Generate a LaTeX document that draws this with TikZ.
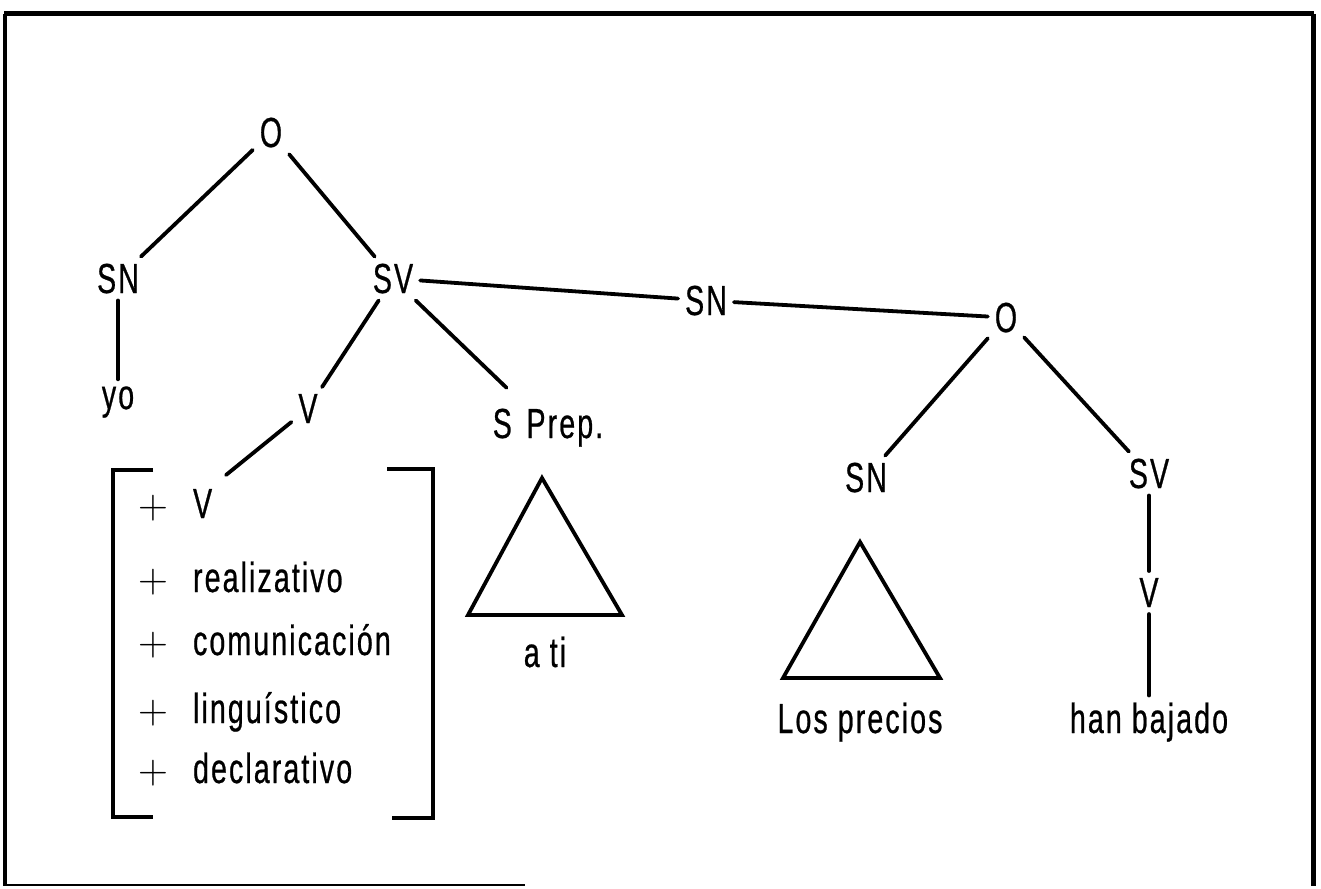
\documentclass[tikz,border=0pt]{standalone}
\usepackage{fontspec}
\setmainfont[FakeStretch=0.68,LetterSpace=5,FakeBold=0.6]{Liberation Sans}
\usepackage{tikz}
\usetikzlibrary{positioning,calc}

\begin{document}
\begin{tikzpicture}[x=0.5pt, y=-0.5pt,
	lbl/.style={anchor=base, font=\fontsize{21}{25}\selectfont},
	branch/.style={line width=1.9pt, line cap=round}]
	
	\useasboundingbox (0,0) rectangle (1321,888);
	
	% --- KHUNG ---
	\draw[line width=2.5pt] (4,14) -- (1314,14);
	\draw[line width=2pt] (5,14) -- (5,886);
	\draw[line width=2.5pt] (1313,14) -- (1313,886);
	\draw[line width=0.8pt] (5,885) -- (525,885);
	
	% --- CÁC NÚT CỦA CÂY ---
	\node[lbl] (o1) at (271,147) {O};
	\node[lbl] (sn1) at (118,293) {SN};
	\node[lbl] (sv1) at (393,293) {SV};
	\node[lbl] (yo) at (118,409) {yo};
	\node[lbl] (v1) at (308,423) {V};
	\node[lbl] (sprep) at (548,438) {S\hspace{0.35em}Prep.};
	\node[lbl] (ati) at (545,667) {a ti};
	\node[lbl] (snm) at (706,315) {SN};
	\node[lbl] (o2) at (1006,332) {O};
	\node[lbl] (sn2) at (866,492) {SN};
	\node[lbl] (sv2) at (1149,488) {SV};
	\node[lbl] (v2) at (1149,607) {V};
	\node[lbl] (precios) at (860,733) {Los precios};
	\node[lbl] (bajado) at (1149,733) {han bajado};
	
	% --- CÁC NHÁNH ---
	\draw[branch] (o1) -- (sn1);
	\draw[branch] (o1) -- (sv1);
	\draw[branch] (sn1) -- (yo);
	\draw[branch] (sv1) -- (v1);
	\draw[branch, shorten >=10pt] (sv1) -- (sprep);
	\draw[branch] (sv1) -- (snm) -- (o2);
	\draw[branch] (o2) -- (sn2);
	\draw[branch] (o2) -- (sv2);
	\draw[branch] (sv2) -- (v2);
	\draw[branch] (v2) -- (bajado);
	
	% Nhánh V xuống ngoặc vuông
	\coordinate (brk) at (226,475);
	\draw[branch] (v1) -- (brk);
	
	% --- TAM GIÁC ---
	\draw[branch, line join=miter] (542,478) -- (622,615) -- (468,615) -- cycle;
	\draw[branch, line join=miter] (860,542) -- (940,678) -- (783,678) -- cycle;
	
	% --- NGOẶC VUÔNG VÀ CÁC NÉT ---
	\draw[line width=1.9pt] (153,470) -- (113,470) -- (113,817) -- (153,817);
	\draw[line width=1.9pt] (387,469) -- (433,469) -- (433,818) -- (392,818);
	\foreach \y/\t in {518/V, 592/realizativo, 655/comunicación, 723/linguístico, 783/declarativo} {
		\node[lbl] (plus\y) at (153,\y) {$+$};
		\node[lbl, anchor=base west] (net\y) at (186,\y) {\t};
	}
	
\end{tikzpicture}
\end{document}
